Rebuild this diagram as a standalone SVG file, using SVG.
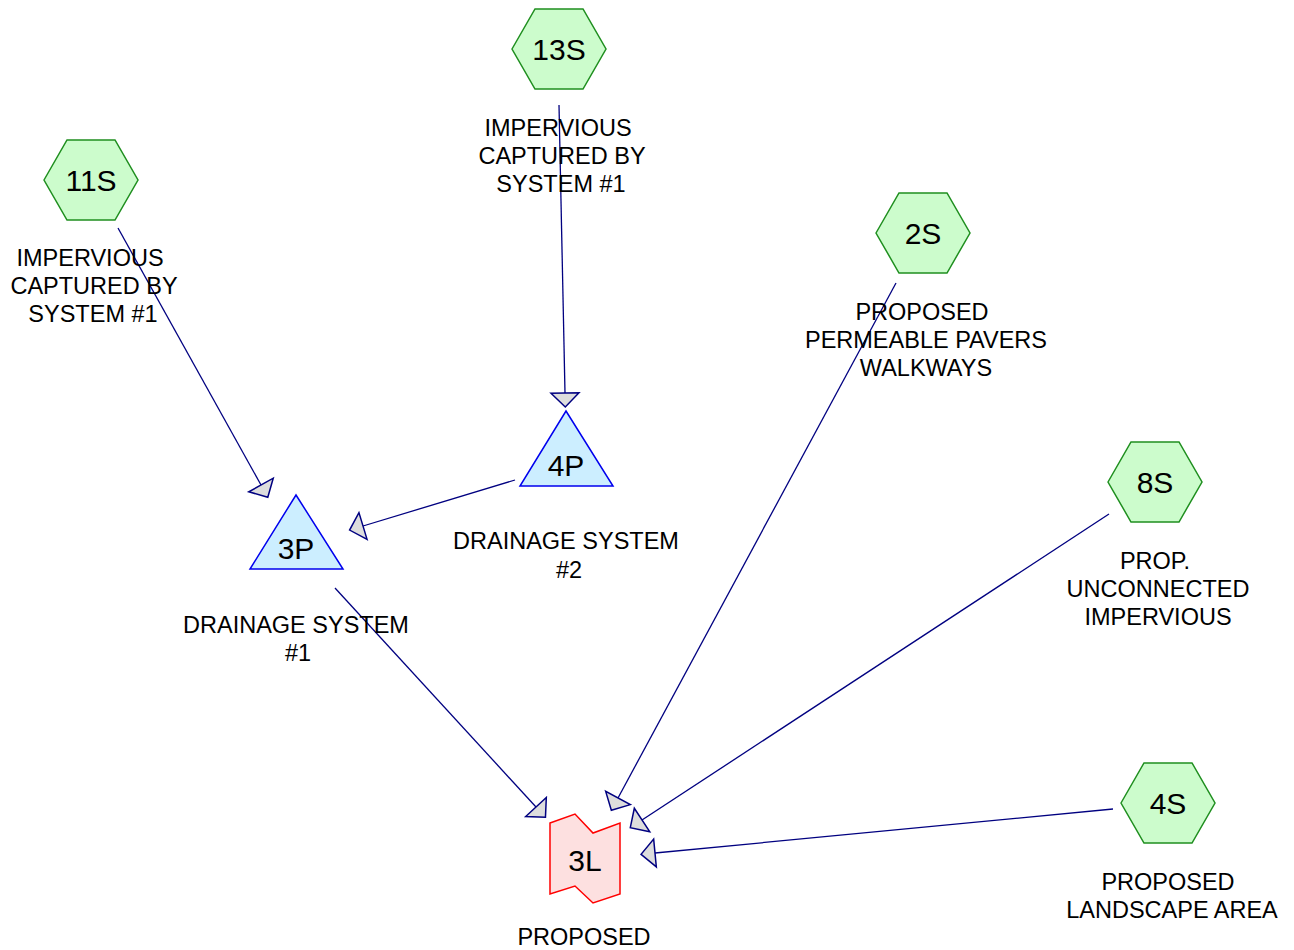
<svg xmlns="http://www.w3.org/2000/svg" width="1294" height="950" viewBox="0 0 1294 950">
<style>
.hex{fill:#ccfccc;stroke:#1f8f1f;stroke-width:1.5}
.tri{fill:#cceeff;stroke:#0000ee;stroke-width:1.5}
.pond{fill:#fde0e0;stroke:#ff0000;stroke-width:1.5}
.id{font-family:"Liberation Sans",Arial,sans-serif;font-size:30px;fill:#000;text-anchor:middle}
.lbl{font-family:"Liberation Sans",Arial,sans-serif;font-size:23.5px;fill:#000;text-anchor:middle}
.link{stroke:#000080;stroke-width:1.3;fill:none;marker-end:url(#arr)}
</style>
<defs>
<marker id="arr" markerUnits="userSpaceOnUse" viewBox="-2 -16 18 32" markerWidth="18" markerHeight="32" refX="0" refY="0" orient="auto">
<path d="M0,-14 L14,0 L0,14 Z" fill="#dddddd" stroke="#000080" stroke-width="1.5"/>
</marker>
</defs>
<g id="connectors">
<line class="link" x1="118" y1="228" x2="261" y2="485"/>
<line class="link" x1="559" y1="105" x2="565" y2="393"/>
<line class="link" x1="515" y1="480" x2="363" y2="526"/>
<line class="link" x1="335" y1="588" x2="536" y2="807"/>
<line class="link" x1="896" y1="283" x2="618" y2="798"/>
<line class="link" x1="1109" y1="514" x2="642" y2="820"/>
<line class="link" x1="1113" y1="809" x2="655" y2="853"/>
</g>
<g id="n13S">
<polygon class="hex" points="512,49 535,9 583,9 606,49 583,89 535,89"/>
<text class="id" x="559" y="60">13S</text>
<text class="lbl" x="558" y="136">IMPERVIOUS</text>
<text class="lbl" x="562" y="164">CAPTURED BY</text>
<text class="lbl" x="561" y="192">SYSTEM #1</text>
</g>
<g id="n11S">
<polygon class="hex" points="44,180 67,140 115,140 138,180 115,220 67,220"/>
<text class="id" x="91" y="191">11S</text>
<text class="lbl" x="90" y="266">IMPERVIOUS</text>
<text class="lbl" x="94" y="294">CAPTURED BY</text>
<text class="lbl" x="93" y="322">SYSTEM #1</text>
</g>
<g id="n2S">
<polygon class="hex" points="876,233 899,193 947,193 970,233 947,273 899,273"/>
<text class="id" x="923" y="244">2S</text>
<text class="lbl" x="922" y="320">PROPOSED</text>
<text class="lbl" x="926" y="348">PERMEABLE PAVERS</text>
<text class="lbl" x="926" y="376">WALKWAYS</text>
</g>
<g id="n8S">
<polygon class="hex" points="1108,482 1131,442 1179,442 1202,482 1179,522 1131,522"/>
<text class="id" x="1155" y="493">8S</text>
<text class="lbl" x="1155" y="569">PROP.</text>
<text class="lbl" x="1158" y="597">UNCONNECTED</text>
<text class="lbl" x="1158" y="625">IMPERVIOUS</text>
</g>
<g id="n4S">
<polygon class="hex" points="1121,803 1144,763 1192,763 1215,803 1192,843 1144,843"/>
<text class="id" x="1168" y="814">4S</text>
<text class="lbl" x="1168" y="890">PROPOSED</text>
<text class="lbl" x="1172" y="918">LANDSCAPE AREA</text>
</g>
<g id="n4P">
<polygon class="tri" points="566,411 613,486 520,486"/>
<text class="id" x="566" y="476">4P</text>
<text class="lbl" x="566" y="549">DRAINAGE SYSTEM</text>
<text class="lbl" x="569" y="578">#2</text>
</g>
<g id="n3P">
<polygon class="tri" points="296,495 343,569 250,569"/>
<text class="id" x="296" y="559">3P</text>
<text class="lbl" x="296" y="633">DRAINAGE SYSTEM</text>
<text class="lbl" x="298" y="661">#1</text>
</g>
<g id="n3L">
<path class="pond" d="M550,823 L575,814 L593,833 L620,823 L620,894 L593,903 L575,886 L550,894 Z"/>
<text class="id" x="585" y="871">3L</text>
<text class="lbl" x="584" y="945">PROPOSED</text>
</g>
</svg>
